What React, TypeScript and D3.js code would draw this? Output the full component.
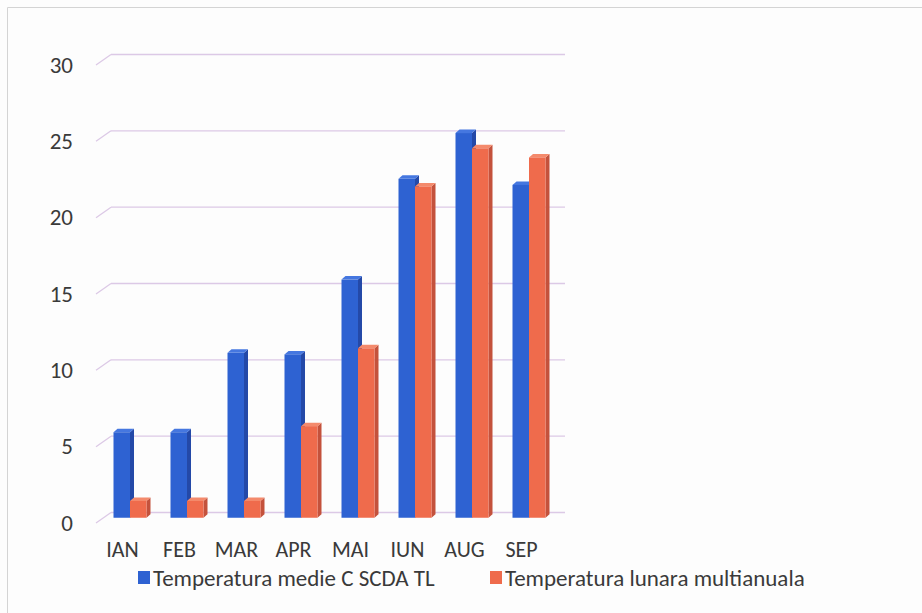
import * as d3 from "d3";

const categories = ["IAN", "FEB", "MAR", "APR", "MAI", "IUN", "AUG", "SEP"];
const seriesNames = ["Temperatura medie C SCDA TL", "Temperatura lunara multianuala"];
const mediaScda = [5.6, 5.6, 10.8, 10.7, 15.6, 22.2, 25.2, 21.8];
const lunaraMulti = [1.1, 1.1, 1.1, 6.0, 11.1, 21.7, 24.2, 23.6];
const yTicks = [0, 5, 10, 15, 20, 25, 30];

const colors = [
  { front: "#2e62d2", side: "#2449a8", top: "#4577e0" },
  { front: "#ef6b4c", side: "#c4523c", top: "#f48a6c" },
];

const font = "Carlito, Lato, sans-serif";

// 3D wall depth and bar depth
const depth = { dx: 15, dy: -10.5 };
const barDepth = { dx: 4, dy: -3.5 };

const App: React.FC = () => {
  const width = 922;
  const height = 613;

  const x = d3.scaleBand<string>().domain(categories).range([94, 550]);
  const y = d3.scaleLinear().domain([0, 30]).range([523, 65]);
  const inner = d3.scaleBand<string>().domain(["0", "1"]).range([0, 33]);

  const series = [mediaScda, lunaraMulti];
  const midX = depth.dx / 2;
  const midY = depth.dy / 2;

  return (
    <svg
      width={width}
      height={height}
      style={{ position: "absolute", left: 0, top: 0, background: "#fdfdfd" }}
    >
      {/* scan frame */}
      <line x1={7.5} y1={7.5} x2={width} y2={7.5} stroke="#d4d4d4" />
      <line x1={7.5} y1={7.5} x2={7.5} y2={height} stroke="#d4d4d4" />

      {/* gridlines on back wall with side diagonals */}
      {yTicks.map((t) => (
        <g key={t} stroke="#dcc9e6" strokeWidth={1.3} fill="none">
          <line
            x1={x.range()[0] + 2}
            y1={y(t)}
            x2={x.range()[0] + 2 + depth.dx}
            y2={y(t) + depth.dy}
          />
          <line
            x1={x.range()[0] + 2 + depth.dx}
            y1={y(t) + depth.dy}
            x2={x.range()[1] + depth.dx}
            y2={y(t) + depth.dy}
          />
        </g>
      ))}

      {/* y labels */}
      {yTicks.map((t) => (
        <text
          key={t}
          x={73}
          y={y(t)}
          dy="0.33em"
          textAnchor="end"
          fontFamily={font}
          fontSize={23}
          fill="#3a3a3a"
        >
          {t}
        </text>
      ))}

      {/* bars */}
      {categories.map((c, i) => (
        <g key={c}>
          {series.map((vals, s) => {
            const x0 = (x(c) ?? 0) + x.bandwidth() / 2 - 16.5 + (inner(String(s)) ?? 0) + midX;
            const w = inner.bandwidth();
            const y0 = y(0) + midY;
            const y1 = y(vals[i]) + midY;
            const col = colors[s];
            return (
              <g key={s}>
                <polygon
                  points={`${x0 + w},${y1} ${x0 + w + barDepth.dx},${y1 + barDepth.dy} ${x0 + w + barDepth.dx},${y0 + barDepth.dy} ${x0 + w},${y0}`}
                  fill={col.side}
                />
                <polygon
                  points={`${x0},${y1} ${x0 + barDepth.dx},${y1 + barDepth.dy} ${x0 + w + barDepth.dx},${y1 + barDepth.dy} ${x0 + w},${y1}`}
                  fill={col.top}
                />
                <rect x={x0} y={y1} width={w} height={y0 - y1} fill={col.front} />
              </g>
            );
          })}
        </g>
      ))}

      {/* x labels */}
      {categories.map((c) => (
        <text
          key={c}
          x={(x(c) ?? 0) + x.bandwidth() / 2}
          y={557}
          textAnchor="middle"
          fontFamily={font}
          fontSize={22}
          fill="#3a3a3a"
        >
          {c}
        </text>
      ))}

      {/* legend */}
      {seriesNames.map((name, s) => {
        const lx = s === 0 ? 138 : 490;
        return (
          <g key={name}>
            <rect x={lx} y={571} width={12} height={13} fill={colors[s].front} />
            <text
              x={lx + 15}
              y={585.5}
              fontFamily={font}
              fontSize={23}
              fill="#3a3a3a"
            >
              {name}
            </text>
          </g>
        );
      })}
    </svg>
  );
};

export default App;
